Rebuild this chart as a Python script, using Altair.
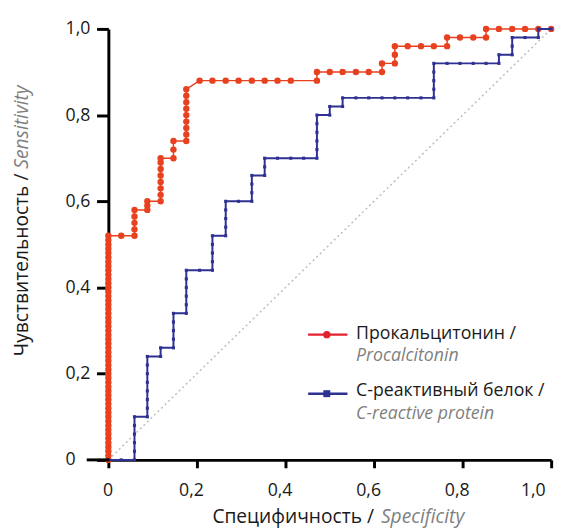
import altair as alt
import pandas as pd

# Procalcitonin ROC points (x = 1 - specificity axis value, y = sensitivity)
pct_fpr = [0, 0, 0, 0, 0, 0, 0, 0, 0, 0, 0, 0, 0, 0, 0, 0, 0, 0, 0, 0, 0, 0, 0, 0, 0, 0,
           0, 0, 0, 0, 0, 0, 0, 0, 0, 0, 0, 0, 0, 0, 0, 0, 0, 0, 0, 0, 0, 0, 0, 0, 0, 0, 0,
           0.029, 0.059, 0.059, 0.059, 0.059, 0.059, 0.088, 0.088, 0.088,
           0.118, 0.118, 0.118, 0.118, 0.118, 0.118, 0.118, 0.118,
           0.147, 0.147, 0.147,
           0.176, 0.176, 0.176, 0.176, 0.176, 0.176, 0.176, 0.176, 0.176,
           0.206, 0.235, 0.265, 0.294, 0.324, 0.353, 0.382, 0.412, 0.471, 0.471,
           0.5, 0.529, 0.559, 0.588, 0.618, 0.618, 0.647, 0.647, 0.647,
           0.676, 0.706, 0.735, 0.765, 0.765, 0.794, 0.824, 0.853, 0.853,
           0.882, 0.912, 0.941, 0.971, 1.0]
pct_sens = [0.00, 0.01, 0.02, 0.03, 0.04, 0.05, 0.06, 0.07, 0.08, 0.09, 0.10, 0.11, 0.12,
            0.13, 0.14, 0.15, 0.16, 0.17, 0.18, 0.19, 0.20, 0.21, 0.22, 0.23, 0.24, 0.25,
            0.26, 0.27, 0.28, 0.29, 0.30, 0.31, 0.32, 0.33, 0.34, 0.35, 0.36, 0.37, 0.38,
            0.39, 0.40, 0.41, 0.42, 0.43, 0.44, 0.45, 0.46, 0.47, 0.48, 0.49, 0.50, 0.51, 0.52,
            0.52, 0.52, 0.535, 0.55, 0.565, 0.58, 0.58, 0.59, 0.60,
            0.60, 0.615, 0.63, 0.645, 0.66, 0.675, 0.69, 0.70,
            0.70, 0.72, 0.74,
            0.74, 0.755, 0.77, 0.785, 0.80, 0.815, 0.83, 0.845, 0.86,
            0.88, 0.88, 0.88, 0.88, 0.88, 0.88, 0.88, 0.88, 0.88, 0.90,
            0.90, 0.90, 0.90, 0.90, 0.90, 0.92, 0.92, 0.94, 0.96,
            0.96, 0.96, 0.96, 0.96, 0.98, 0.98, 0.98, 0.98, 1.0,
            1.0, 1.0, 1.0, 1.0, 1.0]

# C-reactive protein ROC points
crp_fpr = [0, 0.029, 0.059, 0.059, 0.059, 0.059, 0.059, 0.059,
           0.088, 0.088, 0.088, 0.088, 0.088, 0.088, 0.088, 0.088,
           0.118, 0.118, 0.147, 0.147, 0.147, 0.147, 0.147,
           0.176, 0.176, 0.176, 0.176, 0.176, 0.176,
           0.206, 0.235, 0.235, 0.235, 0.235, 0.235,
           0.265, 0.265, 0.265, 0.265, 0.265,
           0.294, 0.324, 0.324, 0.324, 0.324, 0.353, 0.353, 0.353,
           0.382, 0.412, 0.441, 0.471, 0.471, 0.471, 0.471, 0.471, 0.471,
           0.5, 0.5, 0.529, 0.529,
           0.559, 0.588, 0.618, 0.647, 0.676, 0.706, 0.735, 0.735, 0.735, 0.735, 0.735,
           0.765, 0.794, 0.824, 0.853, 0.882, 0.882, 0.912, 0.912, 0.912,
           0.941, 0.971, 0.971, 1.0]
crp_sens = [0, 0, 0, 0.02, 0.04, 0.06, 0.08, 0.10,
            0.10, 0.12, 0.14, 0.16, 0.18, 0.20, 0.22, 0.24,
            0.24, 0.26, 0.26, 0.28, 0.30, 0.32, 0.34,
            0.34, 0.36, 0.38, 0.40, 0.42, 0.44,
            0.44, 0.44, 0.46, 0.48, 0.50, 0.52,
            0.52, 0.54, 0.56, 0.58, 0.60,
            0.60, 0.60, 0.62, 0.64, 0.66, 0.66, 0.68, 0.70,
            0.70, 0.70, 0.70, 0.70, 0.72, 0.74, 0.76, 0.78, 0.80,
            0.80, 0.82, 0.82, 0.84,
            0.84, 0.84, 0.84, 0.84, 0.84, 0.84, 0.84, 0.86, 0.88, 0.90, 0.92,
            0.92, 0.92, 0.92, 0.92, 0.92, 0.94, 0.94, 0.96, 0.98,
            0.98, 0.98, 1.0, 1.0]

diag_x = [0, 1]
diag_y = [0, 1]

tick_values = [0, 0.2, 0.4, 0.6, 0.8, 1.0]

RED = "#e8411f"
RED_LEG = "#e3202d"
BLUE = "#2e3192"
GRAY = "#7f7f7f"
BLACK = "#1a1a1a"
FONT = "Open Sans"

W, H = 450, 438

pct = pd.DataFrame({"fpr": pct_fpr, "sens": pct_sens, "i": list(range(len(pct_fpr)))})
crp = pd.DataFrame({"fpr": crp_fpr, "sens": crp_sens, "i": list(range(len(crp_fpr)))})
diag = pd.DataFrame({"fpr": diag_x, "sens": diag_y})

label_expr = "datum.value == 0 ? '0' : replace(format(datum.value, '.1f'), '.', ',')"

xscale = alt.Scale(domain=[0, 1], nice=False, zero=False)
yscale = alt.Scale(domain=[0, 1], nice=False, zero=False)

x_axis = alt.Axis(values=tick_values, labelExpr=label_expr, title=None, grid=False,
                  domainColor="black", domainWidth=3, tickColor="black", tickWidth=3,
                  tickSize=8, labelFontSize=18, labelFont=FONT, labelColor=BLACK,
                  labelPadding=14, labelOffset=-6)
y_axis = alt.Axis(values=tick_values, labelExpr=label_expr, title=None, grid=False,
                  domainColor="black", domainWidth=3, tickColor="black", tickWidth=3,
                  tickSize=12, labelFontSize=18, labelFont=FONT, labelColor=BLACK,
                  labelAlign="left", labelPadding=32, labelBaseline="middle")

X = alt.X("fpr:Q", scale=xscale, axis=x_axis)
Y = alt.Y("sens:Q", scale=yscale, axis=y_axis)

diag_line = alt.Chart(diag).mark_line(color="#bdbdbd", strokeWidth=1.5,
                                      strokeDash=[2, 3]).encode(x=X, y=Y)

pct_line = alt.Chart(pct).mark_line(color=RED, strokeWidth=1.5).encode(
    x=X, y=Y, order="i:Q")
pct_pts = alt.Chart(pct).mark_circle(color=RED, size=42, opacity=1).encode(x=X, y=Y)

crp_line = alt.Chart(crp).mark_line(color=BLUE, strokeWidth=2).encode(
    x=X, y=Y, order="i:Q")
crp_pts = alt.Chart(crp).mark_square(color=BLUE, size=10, opacity=1).encode(x=X, y=Y)

one = pd.DataFrame({"a": [0]})

def txt(s, x, y, color=BLACK, italic=False, align="left", angle=0, size=17):
    kw = dict(font=FONT, fontSize=size, color=color, align=align,
              baseline="middle")
    if italic:
        kw["fontStyle"] = "italic"
    if angle:
        kw["angle"] = angle
    return alt.Chart(one).mark_text(**kw).encode(
        x=alt.value(x), y=alt.value(y), text=alt.value(s))

# x-axis extension to the left of the y axis
x_ext = alt.Chart(one).mark_rule(color="black", strokeWidth=3).encode(
    x=alt.value(-22), x2=alt.value(1), y=alt.value(H))

# axis titles (two-tone)
TS = 19.5
xt1 = txt("Специфичность /", 270, 496, align="right", size=TS)
xt2 = txt("Specificity", 277, 496, color=GRAY, italic=True, size=TS)
yt1 = txt("Чувствительность /", -88, 147, align="right", angle=270, size=TS)
yt2 = txt("Sensitivity", -88, 142, color=GRAY, italic=True, angle=270, size=TS)

# legend
LS = 18
leg_r_line = alt.Chart(one).mark_rule(color=RED_LEG, strokeWidth=2.5).encode(
    x=alt.value(203), x2=alt.value(243), y=alt.value(310.7))
leg_r_pt = alt.Chart(one).mark_circle(color=RED_LEG, size=55, opacity=1).encode(
    x=alt.value(222), y=alt.value(310.7))
leg_r_t1 = txt("Прокальцитонин /", 251.7, 310, size=LS)
leg_r_t2 = txt("Procalcitonin", 251.7, 333, color=GRAY, italic=True, size=LS)

leg_b_line = alt.Chart(one).mark_rule(color=BLUE, strokeWidth=2.5).encode(
    x=alt.value(203), x2=alt.value(243), y=alt.value(370.7))
leg_b_pt = alt.Chart(one).mark_square(color=BLUE, size=50, opacity=1).encode(
    x=alt.value(222), y=alt.value(370.7))
leg_b_t1 = txt("С-реактивный белок /", 251.7, 368, size=LS)
leg_b_t2 = txt("C-reactive protein", 251.7, 391, color=GRAY, italic=True, size=LS)

chart = alt.layer(
    diag_line, pct_line, pct_pts, crp_line, crp_pts, x_ext,
    xt1, xt2, yt1, yt2,
    leg_r_line, leg_r_pt, leg_r_t1, leg_r_t2,
    leg_b_line, leg_b_pt, leg_b_t1, leg_b_t2,
).properties(
    width=W, height=H,
    autosize=alt.AutoSizeParams(type="none"),
    padding={"left": 102, "top": 17, "right": 10, "bottom": 67},
    background="white",
).configure_view(strokeWidth=0)

chart.save("out.html", embed_options={"renderer": "svg", "actions": False})
